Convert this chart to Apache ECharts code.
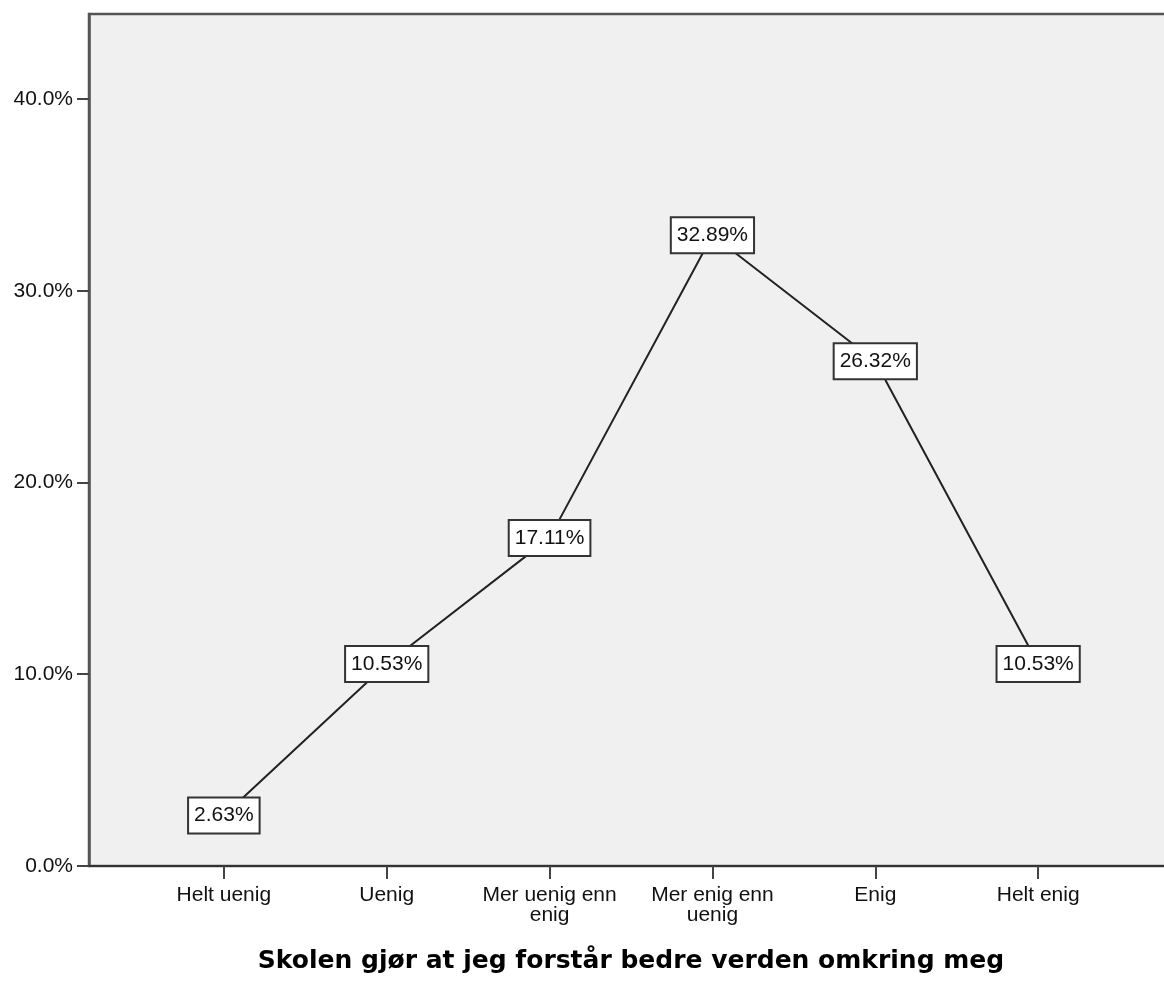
<!DOCTYPE html>
<html>
<head>
<meta charset="utf-8">
<script src="https://cdn.jsdelivr.net/npm/echarts@6/dist/echarts.min.js"></script>
<style>
html,body{margin:0;padding:0;background:#fff;overflow:hidden;}
#chart{width:1173px;height:981px;}
</style>
</head>
<body>
<div id="chart"></div>
<script>
const categories = ["Helt uenig", "Uenig", "Mer uenig enn\nenig", "Mer enig enn\nuenig", "Enig", "Helt enig"];
const values = [2.63, 10.53, 17.11, 32.89, 26.32, 10.53];
const yTicks = [0, 10, 20, 30, 40];
const xTitle = "Skolen gjør at jeg forstår bedre verden omkring meg";

const catIdx = categories.map((c, i) => i);
const chart = echarts.init(document.getElementById('chart'), null, {renderer: 'canvas'});
chart.setOption({
  animation: false,
  backgroundColor: '#ffffff',
  grid: {
    left: 89, top: 14, right: 0, bottom: 115,
    show: true, backgroundColor: '#f0f0f0', borderColor: '#555', borderWidth: 2.5
  },
  xAxis: {
    type: 'value',
    min: -0.828, max: 5.828,
    splitLine: {show: false},
    axisLine: {show: true, onZero: false, lineStyle: {color: '#333', width: 2}},
    axisTick: {show: true, customValues: catIdx, length: 13, lineStyle: {color: '#444', width: 2}},
    axisLabel: {
      customValues: catIdx,
      formatter: v => categories[Math.round(v)],
      fontFamily: 'Liberation Sans', fontSize: 21, color: '#111', lineHeight: 20, margin: 19
    },
    name: xTitle,
    nameLocation: 'middle',
    nameGap: 83,
    nameTextStyle: {fontFamily: 'DejaVu Sans', fontWeight: 'bold', fontSize: 25, color: '#000'}
  },
  yAxis: {
    type: 'value',
    min: 0, max: 44.43,
    splitLine: {show: false},
    axisLine: {show: true, onZero: false, lineStyle: {color: '#555', width: 2.5}},
    axisTick: {show: true, customValues: yTicks, length: 12, lineStyle: {color: '#444', width: 2}},
    axisLabel: {
      customValues: yTicks,
      formatter: v => v.toFixed(1) + '%',
      fontFamily: 'Liberation Sans', fontSize: 21, color: '#111', margin: 16
    }
  },
  series: [{
    type: 'line',
    data: values.map((v, i) => [i, v]),
    symbol: 'circle',
    symbolSize: 1,
    itemStyle: {color: '#222'},
    lineStyle: {color: '#222', width: 2},
    label: {
      show: true,
      position: 'inside',
      formatter: p => p.value[1].toFixed(2) + '%',
      fontFamily: 'Liberation Sans', fontSize: 21, color: '#111', lineHeight: 22,
      backgroundColor: '#fff', borderColor: '#333', borderWidth: 2,
      padding: [6, 5, 6, 5]
    }
  }]
});
</script>
</body>
</html>
